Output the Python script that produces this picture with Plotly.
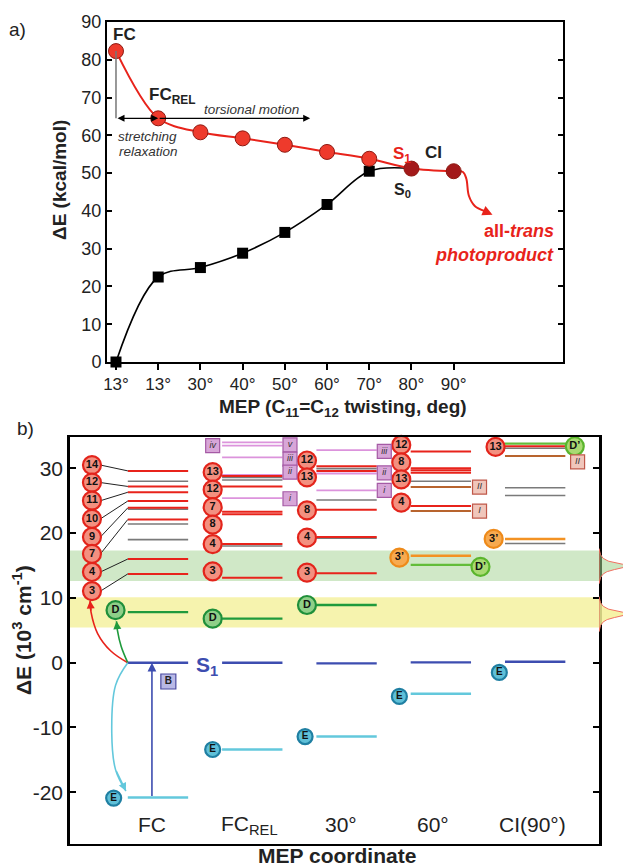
import numpy as np
import plotly.graph_objects as go

# page coordinates of the reference; the page body adds an 8 px margin
OFF = 8
W, H = 631 - OFF, 868 - OFF
FONT = "Liberation Sans, Arial, Helvetica, sans-serif"

def px(x):
    return (x - OFF) / W

def py(y):
    return 1 - (y - OFF) / H

# ---------------- Panel a data ----------------
mep_labels = ["13°", "13°", "30°", "40°", "50°", "60°", "70°", "80°", "90°"]
s1_energy = [82.3, 64.5, 60.8, 59.2, 57.5, 55.6, 53.8, 51.2, 50.5]
s0_energy = [0.0, 22.5, 25.0, 28.8, 34.3, 41.7, 50.5]
s0_join_ci = 51.2                      # S0 meets S1 at the CI (80°)
photoproduct_x = [8.0, 8.22, 8.3, 8.36, 8.5, 8.72]
photoproduct_y = [50.5, 50.3, 48.5, 44.0, 41.3, 40.0]

# ---------------- Panel b data ----------------
columns = ["FC", "FC<sub>REL</sub>", "30°", "60°", "CI(90°)"]
s1_level = [0.0, 0.0, -0.1, 0.05, 0.15]
e_level = [-20.8, -13.4, -11.4, -4.8, None]
e_tag_y = [-20.9, -13.4, -11.4, -5.2, -1.5]
d_level = [7.8, 6.8, 8.9, None, None]
d_tag_y = [8.1, 6.8, 8.9]

red_levels = [
    [29.6, 27.2, 26.3, 24.95, 23.9, 22.1, 16.0, 13.7],
    [28.8, 27.2, 23.3, 22.9, 18.3, 13.1],
    [30.3, 29.6, 23.6, 19.4, 13.8],
    [32.6, 30.0, 29.7, 29.3, 24.2],
    [33.4],
]
gray_levels = [
    [28.0, 23.7, 21.4, 19.0],
    [28.6, 28.2, 18.0],
    [29.95, 25.1, 19.2],
    [28.0],
    [33.1, 27.0, 25.8, 18.4],
]
pink_levels = [[], [34.0, 33.5, 31.7, 29.0, 25.4], [32.8, 29.2, 26.6], [], []]
brown_levels = [[], [], [], [27.1, 23.4], [31.9]]
orange_levels = [[], [], [], [16.5], [19.1]]
dprime_levels = [[], [], [], [15.1], [33.8]]

red_tag_text = [
    ["14", "12", "11", "10", "9", "7", "4", "3"],
    ["13", "12", "7", "8", "4", "3"],
    ["12", "13", "8", "4", "3"],
    ["12", "8", "13", "4"],
    ["13"],
]
red_tag_y = [
    [30.5, 27.8, 25.0, 22.2, 19.4, 16.8, 14.0, 11.05],
    [29.4, 26.7, 24.0, 21.3, 18.3, 14.1],
    [31.2, 28.6, 23.5, 19.3, 13.9],
    [33.6, 30.9, 28.3, 24.7],
    [33.3],
]
orange_tag_y = [None, None, None, 16.2, 19.1]
dprime_tag_y = [None, None, None, 14.8, 33.4]

pink_box_col = [1, 1, 1, 1, 1, 2, 2, 2]
pink_box_side = ["L", "R", "R", "R", "R", "R", "R", "R"]
pink_box_y = [33.5, 33.6, 31.4, 29.4, 25.3, 32.6, 29.3, 26.6]
pink_box_text = ["iv", "v", "iii", "ii", "i", "iii", "ii", "i"]
brown_box_col = [3, 3, 4]
brown_box_y = [27.1, 23.4, 31.0]
brown_box_text = ["II", "I", "II"]

green_band = [12.6, 17.3]
yellow_band = [5.45, 10.1]
band_centers = [14.9, 7.5]
band_width = [0.55, 0.55]

y_ticks_b = [-20, -10, 0, 10, 20, 30]
y_ticktext_b = ["-20", "-10", "0", "10", "20", "30"]

# colours
RED = "#e8231b"
GRAY = "#7a7a7a"
PINK = "#dc93dc"
BROWN = "#b8642e"
ORANGE = "#f39223"
DGREEN = "#1f9a3c"
LGREEN = "#63bd3a"
BLUE = "#3d4db0"
CYAN = "#63c8dc"

fig = go.Figure()

# ================= Panel a =================
xi = list(range(len(mep_labels)))
fig.add_trace(go.Scatter(
    x=xi[:len(s0_energy)] + [7], y=s0_energy + [s0_join_ci], mode="lines",
    line=dict(color="black", width=1.6, shape="spline", smoothing=1.0),
    xaxis="x", yaxis="y", showlegend=False, hoverinfo="skip"))
fig.add_trace(go.Scatter(
    x=photoproduct_x, y=photoproduct_y, mode="lines",
    line=dict(color=RED, width=2, shape="spline", smoothing=1.0),
    xaxis="x", yaxis="y", showlegend=False, hoverinfo="skip"))
fig.add_trace(go.Scatter(
    x=xi, y=s1_energy, mode="lines",
    line=dict(color=RED, width=2, shape="spline", smoothing=0.9),
    xaxis="x", yaxis="y", showlegend=False, hoverinfo="skip"))
fig.add_trace(go.Scatter(
    x=xi[:len(s0_energy)], y=s0_energy, mode="markers",
    marker=dict(symbol="square", size=11, color="black"),
    xaxis="x", yaxis="y", showlegend=False, cliponaxis=False))
s1_fill = ["#ee3a2c"] * 7 + ["#a3191a"] * 2
fig.add_trace(go.Scatter(
    x=xi, y=s1_energy, mode="markers",
    marker=dict(symbol="circle", size=15, color=s1_fill,
                line=dict(color="#8e1a12", width=1)),
    xaxis="x", yaxis="y", showlegend=False, cliponaxis=False))

# ================= Panel b =================
HALF = 0.32

def seg_trace(levels, color, width=2.0):
    xs, ys = [], []
    for i, lv in enumerate(levels):
        for v in lv:
            xs += [i - HALF, i + HALF, None]
            ys += [v, v, None]
    return go.Scatter(x=xs, y=ys, mode="lines", line=dict(color=color, width=width),
                      xaxis="x2", yaxis="y2", showlegend=False, hoverinfo="skip")

fig.add_trace(seg_trace(gray_levels, GRAY, 1.6))
fig.add_trace(seg_trace(pink_levels, PINK, 1.8))
fig.add_trace(seg_trace(brown_levels, BROWN, 2.0))
fig.add_trace(seg_trace(red_levels, RED, 2.0))
fig.add_trace(seg_trace(orange_levels, ORANGE, 2.4))
fig.add_trace(seg_trace(dprime_levels, LGREEN, 2.4))
fig.add_trace(seg_trace([[v] if v is not None else [] for v in d_level], DGREEN, 2.4))
fig.add_trace(seg_trace([[v] for v in s1_level], BLUE, 2.4))
fig.add_trace(seg_trace([[v] if v is not None else [] for v in e_level], CYAN, 2.4))

# leader lines for FC column
lx, ly = [], []
for ty, lv in zip(red_tag_y[0], red_levels[0]):
    lx += [-0.70 + 0.09, -HALF, None]
    ly += [ty, lv, None]
fig.add_trace(go.Scatter(x=lx, y=ly, mode="lines", line=dict(color="#222", width=1),
                         xaxis="x2", yaxis="y2", showlegend=False, hoverinfo="skip"))

# curved arrows from S1 at FC
def curve(xs, ys, color):
    fig.add_trace(go.Scatter(x=xs, y=ys, mode="lines",
                             line=dict(color=color, width=1.6, shape="spline", smoothing=1.1),
                             xaxis="x2", yaxis="y2", showlegend=False, hoverinfo="skip"))
    fig.add_annotation(x=xs[-1], y=ys[-1], ax=xs[-2], ay=ys[-2], xref="x2", yref="y2",
                       axref="x2", ayref="y2", showarrow=True, arrowhead=2, arrowsize=1,
                       arrowwidth=1.6, arrowcolor=color, text="", standoff=0)

curve([-HALF, -0.5, -0.64, -0.71, -0.72], [0, 1.8, 4.5, 7.8, 9.6], RED)
curve([-HALF, -0.39, -0.43, -0.44], [0, 2.5, 5.0, 6.4], DGREEN)
curve([-HALF, -0.45, -0.49, -0.45, -0.34], [0, -3.5, -10.9, -16.5, -19.8], CYAN)
# blue excitation arrow
fig.add_annotation(x=-0.064, y=s1_level[0], ax=-0.064, ay=e_level[0], xref="x2", yref="y2",
                   axref="x2", ayref="y2", showarrow=True, arrowhead=2, arrowsize=1.1,
                   arrowwidth=1.6, arrowcolor=BLUE, text="", standoff=0)

def tags(xs, ys, texts, fill, border, size=17, symbol="circle", fsize=11, fcolor="#111",
         lw=2.2):
    fig.add_trace(go.Scatter(
        x=xs, y=ys, mode="markers+text", text=texts, textposition="middle center",
        textfont=dict(family=FONT, size=fsize, color=fcolor),
        marker=dict(symbol=symbol, size=size, color=fill, line=dict(color=border, width=lw)),
        xaxis="x2", yaxis="y2", showlegend=False, cliponaxis=False, hoverinfo="skip"))

# red numbered tags
rx, ry, rt = [], [], []
for i, (tt, yy) in enumerate(zip(red_tag_text, red_tag_y)):
    off = -0.70 if i == 0 else -0.42
    for t, y in zip(tt, yy):
        rx.append(i + off); ry.append(y); rt.append("<b>" + t + "</b>")
tags(rx, ry, rt, "#f39080", "#e3241b", size=18)

# D tags
dx = [0 - 0.45, 1 - 0.42, 2 - 0.42]
tags(dx, d_tag_y, ["<b>D</b>"] * 3, "#8fcf88", "#1f8f3a", size=18)
# D' tags (right side)
dpx = [i + 0.42 for i, v in enumerate(dprime_tag_y) if v is not None]
dpy = [v for v in dprime_tag_y if v is not None]
tags(dpx, dpy, ["<b>D’</b>"] * len(dpy), "#a9da72", "#5ab52c", size=18)
# 3' tags
ox = [i - 0.44 for i, v in enumerate(orange_tag_y) if v is not None]
oy = [v for v in orange_tag_y if v is not None]
tags(ox, oy, ["<b>3’</b>"] * len(oy), "#f7aa50", "#ee8a1a", size=18)
# E tags
ex = [0 - 0.47, 1 - 0.42, 2 - 0.44, 3 - 0.44, 4 - 0.38]
tags(ex, e_tag_y, ["<b>E</b>"] * 5, "#5fc0d8", "#1f7fa2", size=15, fsize=10)
# pink roman boxes
pbx = [c + (-0.42 if s == "L" else 0.40) for c, s in zip(pink_box_col, pink_box_side)]
tags(pbx, pink_box_y, ["<i>" + t + "</i>" for t in pink_box_text], "#d8a6d8", "#a55aa5",
     size=14, symbol="square", fsize=9, fcolor="#333", lw=1.2)
# brown roman boxes
bbx = [c + (0.41 if c == 3 else 0.45) for c in brown_box_col]
tags(bbx, brown_box_y, ["<i>" + t + "</i>" for t in brown_box_text], "#f0c6bb", "#c0584a",
     size=14, symbol="square", fsize=9, fcolor="#333", lw=1.2)
# B box
tags([0.11], [-2.9], ["<b>B</b>"], "#b9b9e6", "#4b4ba0", size=15, symbol="square",
     fsize=10, fcolor="#222", lw=1.2)

# band profiles outside the right border (Lorentzian-shaped peaks)
for c, g, fillc in zip(band_centers, band_width,
                       ["rgba(160,210,140,0.55)", "rgba(245,240,150,0.85)"]):
    span = 2.7
    yy = np.linspace(c - span, c + span, 120)
    lor = 1 / (1 + ((yy - c) / g) ** 2)
    base = 1 / (1 + (span / g) ** 2)
    xx = 0.96 * (lor - base) / (1 - base)
    fig.add_trace(go.Scatter(x=list(xx) + [0], y=list(yy) + [yy[0]], mode="lines",
                             fill="toself", fillcolor=fillc,
                             line=dict(color="#f07060", width=1),
                             xaxis="x3", yaxis="y3", showlegend=False, hoverinfo="skip"))

# ---------------- layout ----------------
a_dom_x = [px(107), px(563)]
a_dom_y = [py(362), py(22)]
b_dom_x = [px(70), px(599)]
b_dom_y = [py(844), py(437)]
b_yrange = [-27.98, 34.83]

axis_line = dict(showline=True, linecolor="black", linewidth=2, mirror=True,
                 showgrid=False, zeroline=False, automargin=False)

fig.update_layout(
    width=W, height=H, autosize=False,
    margin=dict(l=0, r=0, t=0, b=0, pad=0, autoexpand=False),
    paper_bgcolor="white", plot_bgcolor="rgba(0,0,0,0)",
    font=dict(family=FONT, color="#222"), showlegend=False,
    xaxis=dict(domain=a_dom_x, range=[-0.213, 10.59], anchor="y",
               tickmode="array", tickvals=xi, ticktext=mep_labels,
               ticks="outside", ticklen=6, tickwidth=1.5, tickcolor="black",
               tickfont=dict(size=17, color="#222"), **axis_line),
    yaxis=dict(domain=a_dom_y, range=[0, 90], anchor="x",
               tickmode="array", tickvals=list(range(0, 91, 10)),
               ticks="inside", ticklen=5, tickwidth=1.5, tickcolor="black",
               tickfont=dict(size=18, color="#222"),
               showline=True, linecolor="black", linewidth=2, mirror="ticks",
               showgrid=False, zeroline=False, automargin=False),
    xaxis2=dict(domain=b_dom_x, range=[-0.933, 4.677], anchor="y2",
                showticklabels=False, ticks="", **axis_line),
    yaxis2=dict(domain=b_dom_y, range=b_yrange, anchor="x2",
                tickmode="array", tickvals=y_ticks_b, ticktext=y_ticktext_b,
                ticks="inside", ticklen=6, tickwidth=2, tickcolor="black",
                tickfont=dict(size=21, color="#222"),
                showline=True, linecolor="black", linewidth=2.5, mirror="ticks",
                showgrid=False, zeroline=False, automargin=False),
    xaxis3=dict(domain=[px(599), 1.0], range=[0, 1], anchor="y3", visible=False,
                automargin=False),
    yaxis3=dict(domain=b_dom_y, range=b_yrange, anchor="x3", visible=False,
                automargin=False),
)

# bands
for band, col in zip([green_band, yellow_band],
                     ["rgba(150,205,130,0.45)", "rgba(240,235,120,0.6)"]):
    fig.add_shape(type="rect", xref="x2 domain", yref="y2", x0=0, x1=1,
                  y0=band[0], y1=band[1], fillcolor=col, line=dict(width=0), layer="below")

# panel a helper line and arrows
fig.add_shape(type="line", xref="x", yref="y", x0=0, x1=0, y0=s1_energy[0], y1=s1_energy[1],
              line=dict(color="#777", width=1.5))
fig.add_annotation(x=1, y=s1_energy[1], ax=0, ay=s1_energy[1], xref="x", yref="y",
                   axref="x", ayref="y", showarrow=True, arrowhead=2, arrowside="end+start",
                   arrowsize=1, arrowwidth=1.4, arrowcolor="black", text="", standoff=0,
                   startstandoff=0)
fig.add_annotation(x=4.6, y=s1_energy[1], ax=1, ay=s1_energy[1], xref="x", yref="y",
                   axref="x", ayref="y", showarrow=True, arrowhead=2, arrowsize=1,
                   arrowwidth=1.4, arrowcolor="black", text="", standoff=0)
fig.add_annotation(x=8.92, y=39.0, ax=photoproduct_x[-1], ay=photoproduct_y[-1],
                   xref="x", yref="y", axref="x", ayref="y", showarrow=True, arrowhead=2,
                   arrowsize=1, arrowwidth=2, arrowcolor=RED, text="", standoff=0)

def txt(x, y, s, size, color="#222", xref="paper", yref="paper", xanchor="center",
        yanchor="middle", angle=0):
    fig.add_annotation(x=x, y=y, xref=xref, yref=yref, text=s, showarrow=False,
                       font=dict(family=FONT, size=size, color=color),
                       xanchor=xanchor, yanchor=yanchor, textangle=angle)

# panel a texts
txt(0.19, 86.8, "<b>FC</b>", 17, xref="x", yref="y")
txt(1.32, 70.3, "<b>FC<sub>REL</sub></b>", 17, xref="x", yref="y")
txt(3.2, 66.9, "<i>torsional motion</i>", 13.5, "#333", xref="x", yref="y")
txt(0.75, 59.8, "<i>stretching</i>", 13.5, "#333", xref="x", yref="y")
txt(0.78, 55.6, "<i>relaxation</i>", 13.5, "#333", xref="x", yref="y")
txt(6.78, 54.7, "<b>S<sub>1</sub></b>", 17, RED, xref="x", yref="y")
txt(7.52, 55.5, "<b>CI</b>", 17, xref="x", yref="y")
txt(6.78, 45.5, "<b>S<sub>0</sub></b>", 16, xref="x", yref="y")
txt(10.42, 34.6, "<b>all-<i>trans</i></b>", 18, RED, xref="x", yref="y", xanchor="right")
txt(10.42, 28.4, "<b><i>photoproduct</i></b>", 18, RED, xref="x", yref="y", xanchor="right")
txt(px(17), py(30), "a)", 19)
txt(px(25), py(428), "b)", 19)
txt(px(60), py(180), "<b>ΔE (kcal/mol)</b>", 19, angle=-90)
txt(px(343), py(408), "<b>MEP (C<sub>11</sub>=C<sub>12</sub> twisting, deg)</b>", 19)

# panel b texts
for i, c in enumerate(columns):
    off = [-0.06, -0.03, -0.06, -0.08, -0.03][i]
    txt(i + off, -25.0, c, 21, xref="x2", yref="y2")
txt(0.52, -0.5, "<b>S<sub>1</sub></b>", 21, BLUE, xref="x2", yref="y2")
txt(px(337), py(855), "<b>MEP coordinate</b>", 21)
txt(px(22), py(630), "<b>ΔE (10<sup>3</sup> cm<sup>-1</sup>)</b>", 21, angle=-90)

fig.write_html("out.html")
